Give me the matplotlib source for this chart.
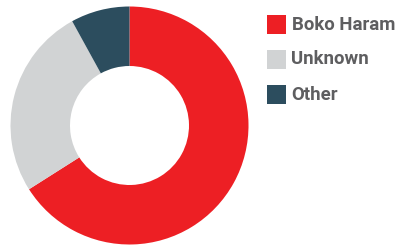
import matplotlib
matplotlib.use("Agg")
import matplotlib.pyplot as plt
from matplotlib.patches import Rectangle

labels = ["Boko Haram", "Unknown", "Other"]
values = [66, 26, 8]
colors = ["#ED1F24", "#D1D3D4", "#2C4D5E"]

W, H = 400, 246
fig = plt.figure(figsize=(W / 100, H / 100), dpi=100)
ax = fig.add_axes([10.5 / W, 1.5 / H, 238 / W, 238 / H])
ax.pie(values, colors=colors, startangle=90, counterclock=False,
       radius=1.0, wedgeprops=dict(width=0.5, linewidth=0))
ax.set_xlim(-1, 1)
ax.set_ylim(-1, 1)
ax.set_aspect("equal")
ax.axis("off")

# legend
sq = 19
x0 = 267
y_centers = [24.5, 59.5, 94.5]
for lab, col, yc in zip(labels, colors, y_centers):
    fig.add_artist(Rectangle((x0 / W, (H - yc - sq / 2) / H), sq / W, sq / H,
                             transform=fig.transFigure, facecolor=col,
                             edgecolor="none"))
    fig.text(291.5 / W, (H - yc) / H, lab, ha="left", va="center",
             fontsize=13.4, fontweight="bold", color="#5E5E60",
             family="Roboto")

fig.savefig("out.png", dpi=100)
